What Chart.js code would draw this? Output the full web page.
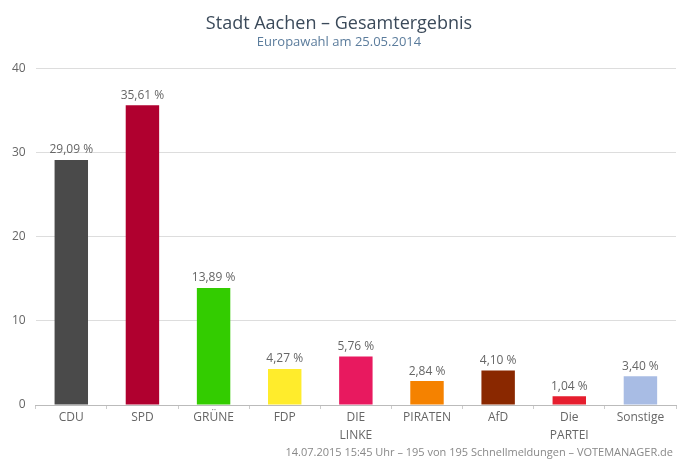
<!DOCTYPE html>
<html>
<head>
<meta charset="utf-8">
<script src="https://cdn.jsdelivr.net/npm/chart.js@4.4.1/dist/chart.umd.min.js"></script>
<style>
  html, body { margin: 0; padding: 0; background: #fff; }
  #wrap { width: 677px; height: 459px; position: relative; }
</style>
</head>
<body>
<div id="wrap"><canvas id="chart"></canvas></div>
<script>
const parties = ['CDU', 'SPD', 'GRÜNE', 'FDP', ['DIE', 'LINKE'], 'PIRATEN', 'AfD', ['Die', 'PARTEI'], 'Sonstige'];
const shares = [29.09, 35.61, 13.89, 4.27, 5.76, 2.84, 4.10, 1.04, 3.40];
const partyColors = ['#4a4a4a', '#b0002f', '#33cc00', '#ffec2c', '#e8195f', '#f58200', '#8a2800', '#e61e2e', '#a8bce4'];
const yTicks = [0, 10, 20, 30, 40];
const footerText = '14.07.2015 15:45 Uhr \u2013 195 von 195 Schnellmeldungen \u2013 VOTEMANAGER.de';

const fontFamily = '"Open Sans", "DejaVu Sans", sans-serif';

// value labels above the bars + footer line
const labelPlugin = {
  id: 'labels',
  afterDatasetsDraw(chart) {
    const ctx = chart.ctx;
    const meta = chart.getDatasetMeta(0);
    ctx.save();
    ctx.font = '12px ' + fontFamily;
    ctx.fillStyle = '#666';
    ctx.textAlign = 'center';
    ctx.textBaseline = 'bottom';
    meta.data.forEach((bar, i) => {
      const txt = shares[i].toFixed(2).replace('.', ',') + ' %';
      ctx.fillText(txt, bar.x, bar.y - 4);
    });
    ctx.font = '11px ' + fontFamily;
    ctx.fillStyle = '#888';
    ctx.textAlign = 'right';
    ctx.textBaseline = 'alphabetic';
    ctx.fillText(footerText, chart.width - 4, chart.height - 3);
    ctx.restore();
  }
};

new Chart(document.getElementById('chart'), {
  type: 'bar',
  data: {
    labels: parties,
    datasets: [{
      data: shares,
      backgroundColor: partyColors,
      borderWidth: 0,
      categoryPercentage: 1,
      barPercentage: 0.47
    }]
  },
  options: {
    responsive: true,
    maintainAspectRatio: false,
    animation: false,
    layout: { padding: { left: 2, right: 1, top: 0, bottom: 14 } },
    plugins: {
      legend: { display: false },
      tooltip: { enabled: false },
      title: {
        display: true,
        text: 'Stadt Aachen \u2013 Gesamtergebnis',
        color: '#3b4a5a',
        font: { family: fontFamily, size: 18, weight: 'normal' },
        padding: { top: 13, bottom: 0 }
      },
      subtitle: {
        display: true,
        text: 'Europawahl am 25.05.2014',
        color: '#5b7c9c',
        font: { family: fontFamily, size: 13, weight: 'normal' },
        padding: { top: 0, bottom: 18 }
      }
    },
    scales: {
      x: {
        grid: {
          display: true,
          drawOnChartArea: false,
          drawTicks: true,
          tickLength: 4,
          color: '#ccc'
        },
        border: { display: true, color: '#bbb' },
        ticks: {
          color: '#666',
          font: { family: fontFamily, size: 12, lineHeight: 1.5 },
          padding: 0,
          maxRotation: 0,
          autoSkip: false
        }
      },
      y: {
        min: 0,
        max: 40,
        afterBuildTicks(axis) {
          axis.ticks = yTicks.map(v => ({ value: v }));
        },
        grid: { color: '#ddd', drawTicks: false },
        border: { display: false },
        ticks: {
          color: '#666',
          font: { family: fontFamily, size: 12 },
          padding: 10
        }
      }
    }
  },
  plugins: [labelPlugin]
});
</script>
</body>
</html>
